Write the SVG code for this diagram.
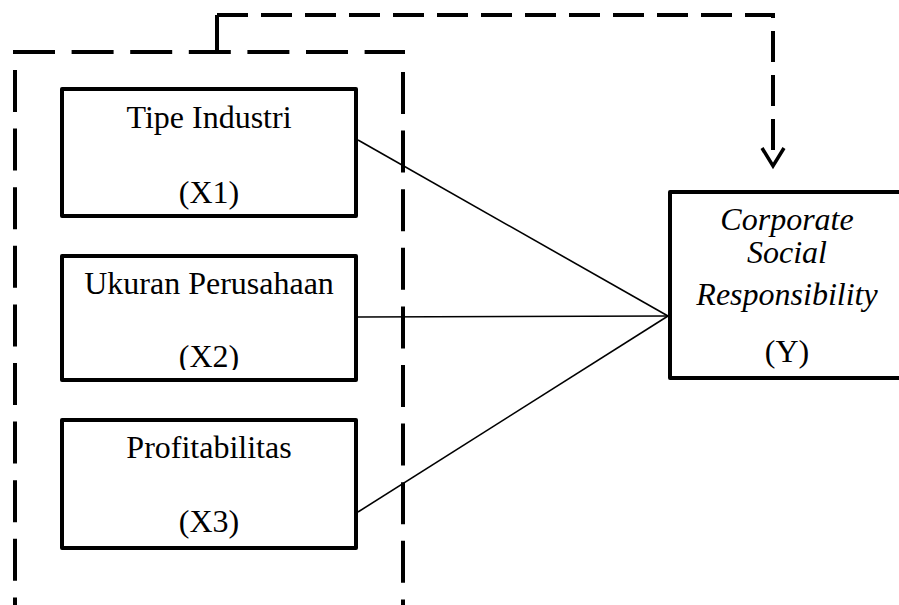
<svg xmlns="http://www.w3.org/2000/svg" width="899" height="605" viewBox="0 0 899 605">
<style>
.box{fill:#fff;stroke:#000;stroke-width:4;stroke-linejoin:round}
.t{font-family:"Liberation Serif","Times New Roman",serif;font-size:32px;fill:#000;text-anchor:middle}
.i{font-style:italic}
.dash{fill:none;stroke:#000;stroke-width:4;stroke-dasharray:42 16.6}
.link{fill:none;stroke:#000;stroke-width:1.6}
</style>
<defs>
<clipPath id="cx2"><rect x="60" y="254" width="300" height="116"/></clipPath>
</defs>
<g id="group-box">
<path class="dash" d="M13 52 H405"/>
<path class="dash" d="M15 70 V610"/>
<path class="dash" d="M403 72 V610"/>
</g>
<g id="connectors">
<path class="link" d="M358 140 L668 316"/>
<path class="link" d="M358 317 L668 316"/>
<path class="link" d="M358 512 L668 316"/>
<path d="M217 52 V15" fill="none" stroke="#000" stroke-width="4"/>
<path d="M217 15 H773 V166" fill="none" stroke="#000" stroke-width="4" stroke-dasharray="31 13"/>
<path d="M762 148 L773 166 L784 148" fill="none" stroke="#000" stroke-width="3.5" stroke-linejoin="miter"/>
</g>
<g id="x1">
<rect class="box" x="62" y="89" width="294" height="127"/>
<text class="t" x="209" y="128">Tipe Industri</text>
<text class="t" x="209" y="203">(X1)</text>
</g>
<g id="x2">
<rect class="box" x="62" y="256" width="294" height="124"/>
<text class="t" x="209" y="294">Ukuran Perusahaan</text>
<text class="t" x="209" y="367" clip-path="url(#cx2)">(X2)</text>
</g>
<g id="x3">
<rect class="box" x="62" y="420" width="294" height="128"/>
<text class="t" x="209" y="458">Profitabilitas</text>
<text class="t" x="209" y="532">(X3)</text>
</g>
<g id="y">
<rect class="box" x="670" y="192" width="240" height="186"/>
<text class="t i" x="787" y="230">Corporate</text>
<text class="t i" x="787" y="263">Social</text>
<text class="t i" x="787" y="305">Responsibility</text>
<text class="t" x="787" y="362">(Y)</text>
</g>
</svg>
